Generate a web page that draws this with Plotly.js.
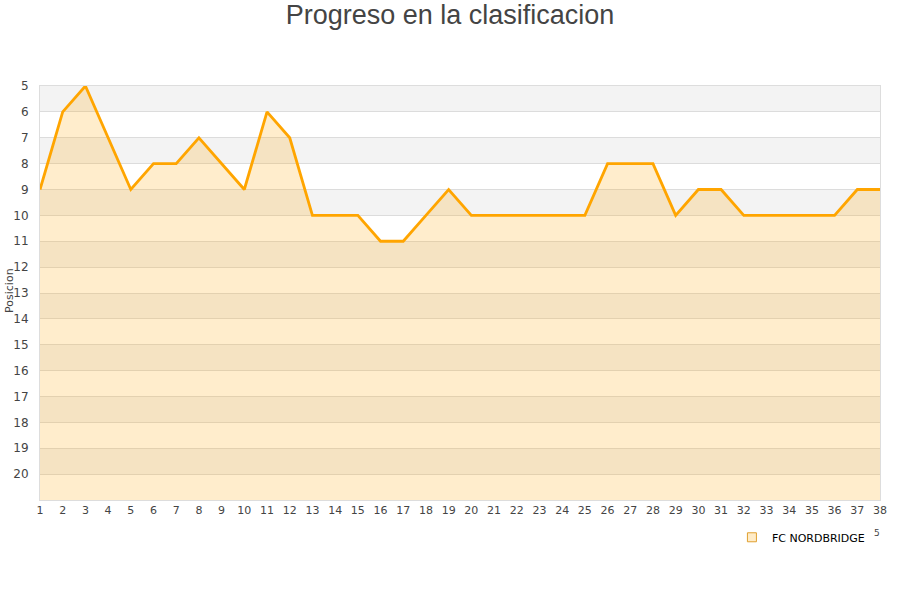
<!DOCTYPE html>
<html><head><meta charset="utf-8">
<script src="https://cdn.plot.ly/plotly-3.0.1.min.js"></script>
<style>body{margin:0;background:#fff}#chart{width:900px;height:600px}</style>
</head><body><div id="chart"></div>
<script>
const jornadas = [1,2,3,4,5,6,7,8,9,10,11,12,13,14,15,16,17,18,19,20,21,22,23,24,25,26,27,28,29,30,31,32,33,34,35,36,37,38];
const posiciones = [9,6,5,7,9,8,8,7,8,9,6,7,10,10,10,11,11,10,9,10,10,10,10,10,10,8,8,8,10,9,9,10,10,10,10,10,9,9];
const equipo = "FC NORDBRIDGE";
const titulo = "Progreso en la clasificacion";
const yTitulo = "Posicion";
const yTicks = [5,6,7,8,9,10,11,12,13,14,15,16,17,18,19,20];

const base = jornadas.map(() => 21);
const shapes = [];
for (let p = 5; p < 21; p += 2) {
  shapes.push({type:'rect', xref:'paper', yref:'y', x0:0, x1:1, y0:p, y1:p+1,
    fillcolor:'#f3f3f3', line:{width:0}, layer:'below'});
}

const traces = [
  {x: jornadas, y: base, mode:'lines', line:{width:0}, showlegend:false, hoverinfo:'skip'},
  {x: jornadas, y: posiciones, mode:'lines', fill:'tonexty', fillcolor:'rgba(255,165,0,0.2)',
   line:{color:'#ffa500', width:2.8}, showlegend:false, name: equipo},
  {x:[null], y:[null], mode:'markers', name: equipo,
   marker:{symbol:'square', size:9, color:'#ffecc8', line:{color:'#e0a030', width:1}}}
];

const layout = {
  width:900, height:600,
  paper_bgcolor:'#fff', plot_bgcolor:'#fff',
  margin:{l:40, r:20, t:86, b:100},
  title:{text: titulo, x:0.5, xanchor:'center', y:0.975, yanchor:'middle',
    font:{family:'Liberation Sans, Arial, sans-serif', size:27, color:'#444'}},
  font:{family:'DejaVu Sans, sans-serif', size:11, color:'#444'},
  xaxis:{range:[1,38], tickvals: jornadas, ticktext: jornadas.map(String),
    showgrid:false, zeroline:false, showline:true, linecolor:'#ddd', mirror:true,
    ticks:'', tickfont:{size:11, color:'#444'}, fixedrange:true},
  yaxis:{range:[21,5], tickvals:yTicks, ticktext:yTicks.map(String),
    showgrid:true, gridcolor:'#dcdcdc', zeroline:false, showline:true, linecolor:'#ddd', mirror:true,
    ticks:'', ticklabelstandoff:8, tickfont:{size:12, color:'#444'}},
  showlegend:true,
  legend:{orientation:'h', x:0.988, xanchor:'right', y:-0.055, yanchor:'top',
    font:{family:'DejaVu Sans, sans-serif', size:11, color:'#000'}, bgcolor:'rgba(0,0,0,0)'},
  shapes: shapes,
  annotations:[
    {text:'5', xref:'paper', yref:'paper', x:0.996, y:-0.08, xanchor:'center', yanchor:'middle',
     showarrow:false, font:{size:9, color:'#444'}},
    {text: yTitulo, xref:'paper', yref:'paper', x:-0.0357, y:0.505, xanchor:'center', yanchor:'middle',
     textangle:-90, showarrow:false, font:{size:11, color:'#444'}}
  ]
};
Plotly.newPlot('chart', traces, layout, {displayModeBar:false, staticPlot:true});
</script></body></html>
